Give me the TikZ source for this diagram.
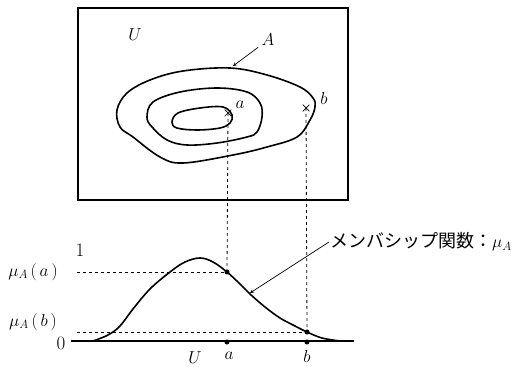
\documentclass[tikz,border=0pt]{standalone}
\usepackage{fontspec}
\newfontfamily\jpfont{Noto Sans CJK JP}
\usetikzlibrary{shapes.misc}
\begin{document}
\begin{tikzpicture}[x=1pt,y=-1pt,>=stealth,font=\fontsize{17}{19}\selectfont,
    contour/.style={line width=1.6pt},
    guide/.style={dashed,line width=0.8pt},
    dotmark/.style={circle,fill,inner sep=1.8pt},
    crossmark/.style={cross out,draw,minimum size=6pt,inner sep=0pt,line width=0.7pt}]
\useasboundingbox (0,0) rectangle (526,366);
        % universe and set A
            \draw[line width=1.3pt] (78,8) rectangle (348,200);
            \node (U) at (135,35) {$U$};
            \draw[contour] plot[smooth cycle,tension=0.6] coordinates {(117,110) (127,93) (150,80) (183,71) (230,68) (267,75) (300,87) (313,98) (315,107) (310,120) (297,137) (267,147) (233,155) (183,163) (160,157) (133,137) (120,127)};
            \draw[contour] plot[smooth cycle,tension=0.6] coordinates {(147,117) (153,102) (180,92) (217,88) (247,92) (260,103) (262,117) (257,132) (247,137) (217,143) (187,145) (167,140) (152,127)};
            \draw[contour] plot[smooth cycle,tension=0.6] coordinates {(172,122) (178,113) (200,108) (223,107) (232,115) (230,123) (220,128) (197,130) (177,128)};
            \node (A) at (268,40) {$A$};
            \coordinate (Atop) at (233,66);
            \draw[->,line width=0.7pt] (A) -- (Atop);
        % elements
            \foreach \v/\x/\y in {a/228/113,b/306/108}{
                \node[crossmark] (x\v) at (\x,\y) {};
            }
            \node (la) at (240,105) {$a$};
            \node (lb) at (324,99) {$b$};
        % membership function
            \draw[line width=1.3pt] (71,341) -- (354,341);
            \draw[contour] plot[smooth,tension=0.6] coordinates {(93,341) (108,335) (120,326) (133,309) (150,289) (170,272) (185,262) (200,258) (213,262) (227,272) (240,284) (250,294) (265,307) (280,318) (295,326) (307,332) (322,338) (340,341)};
            \foreach \v/\x/\y in {a/227/272,b/307/332}{
                \node[dotmark] (c\v) at (\x,\y) {};
                \node[dotmark] (p\v) at (\x,342) {};
                \coordinate (y\v) at (77,\y);
                \draw[guide] (x\v.center) -- (c\v);
                \draw[guide] (y\v) -- (c\v);
            }
        % labels
            \node (one) at (80,250) {\fontsize{19}{21}\selectfont 1};
            \node (zero) at (61,343) {\fontsize{19}{21}\selectfont 0};
            \node (mua) at (33,272) {$\mu_{A}\,(\,a\,)$};
            \node (mub) at (33,322) {$\mu_{A}\,(\,b\,)$};
            \node (Ub) at (195,358) {$U$};
            \node (ab) at (229,356) {$a$};
            \node (bb) at (307,356) {$b$};
            \node[anchor=west,inner sep=1pt] (mf) at (329,242) {\fontsize{18}{20}\selectfont\jpfont メンバシップ関数：\fontsize{17}{19}\selectfont$\mu_{A}$};
            \coordinate (cm) at (250,293);
            \draw[->,line width=0.7pt] (mf.west) -- (cm);
\end{tikzpicture}
\end{document}
